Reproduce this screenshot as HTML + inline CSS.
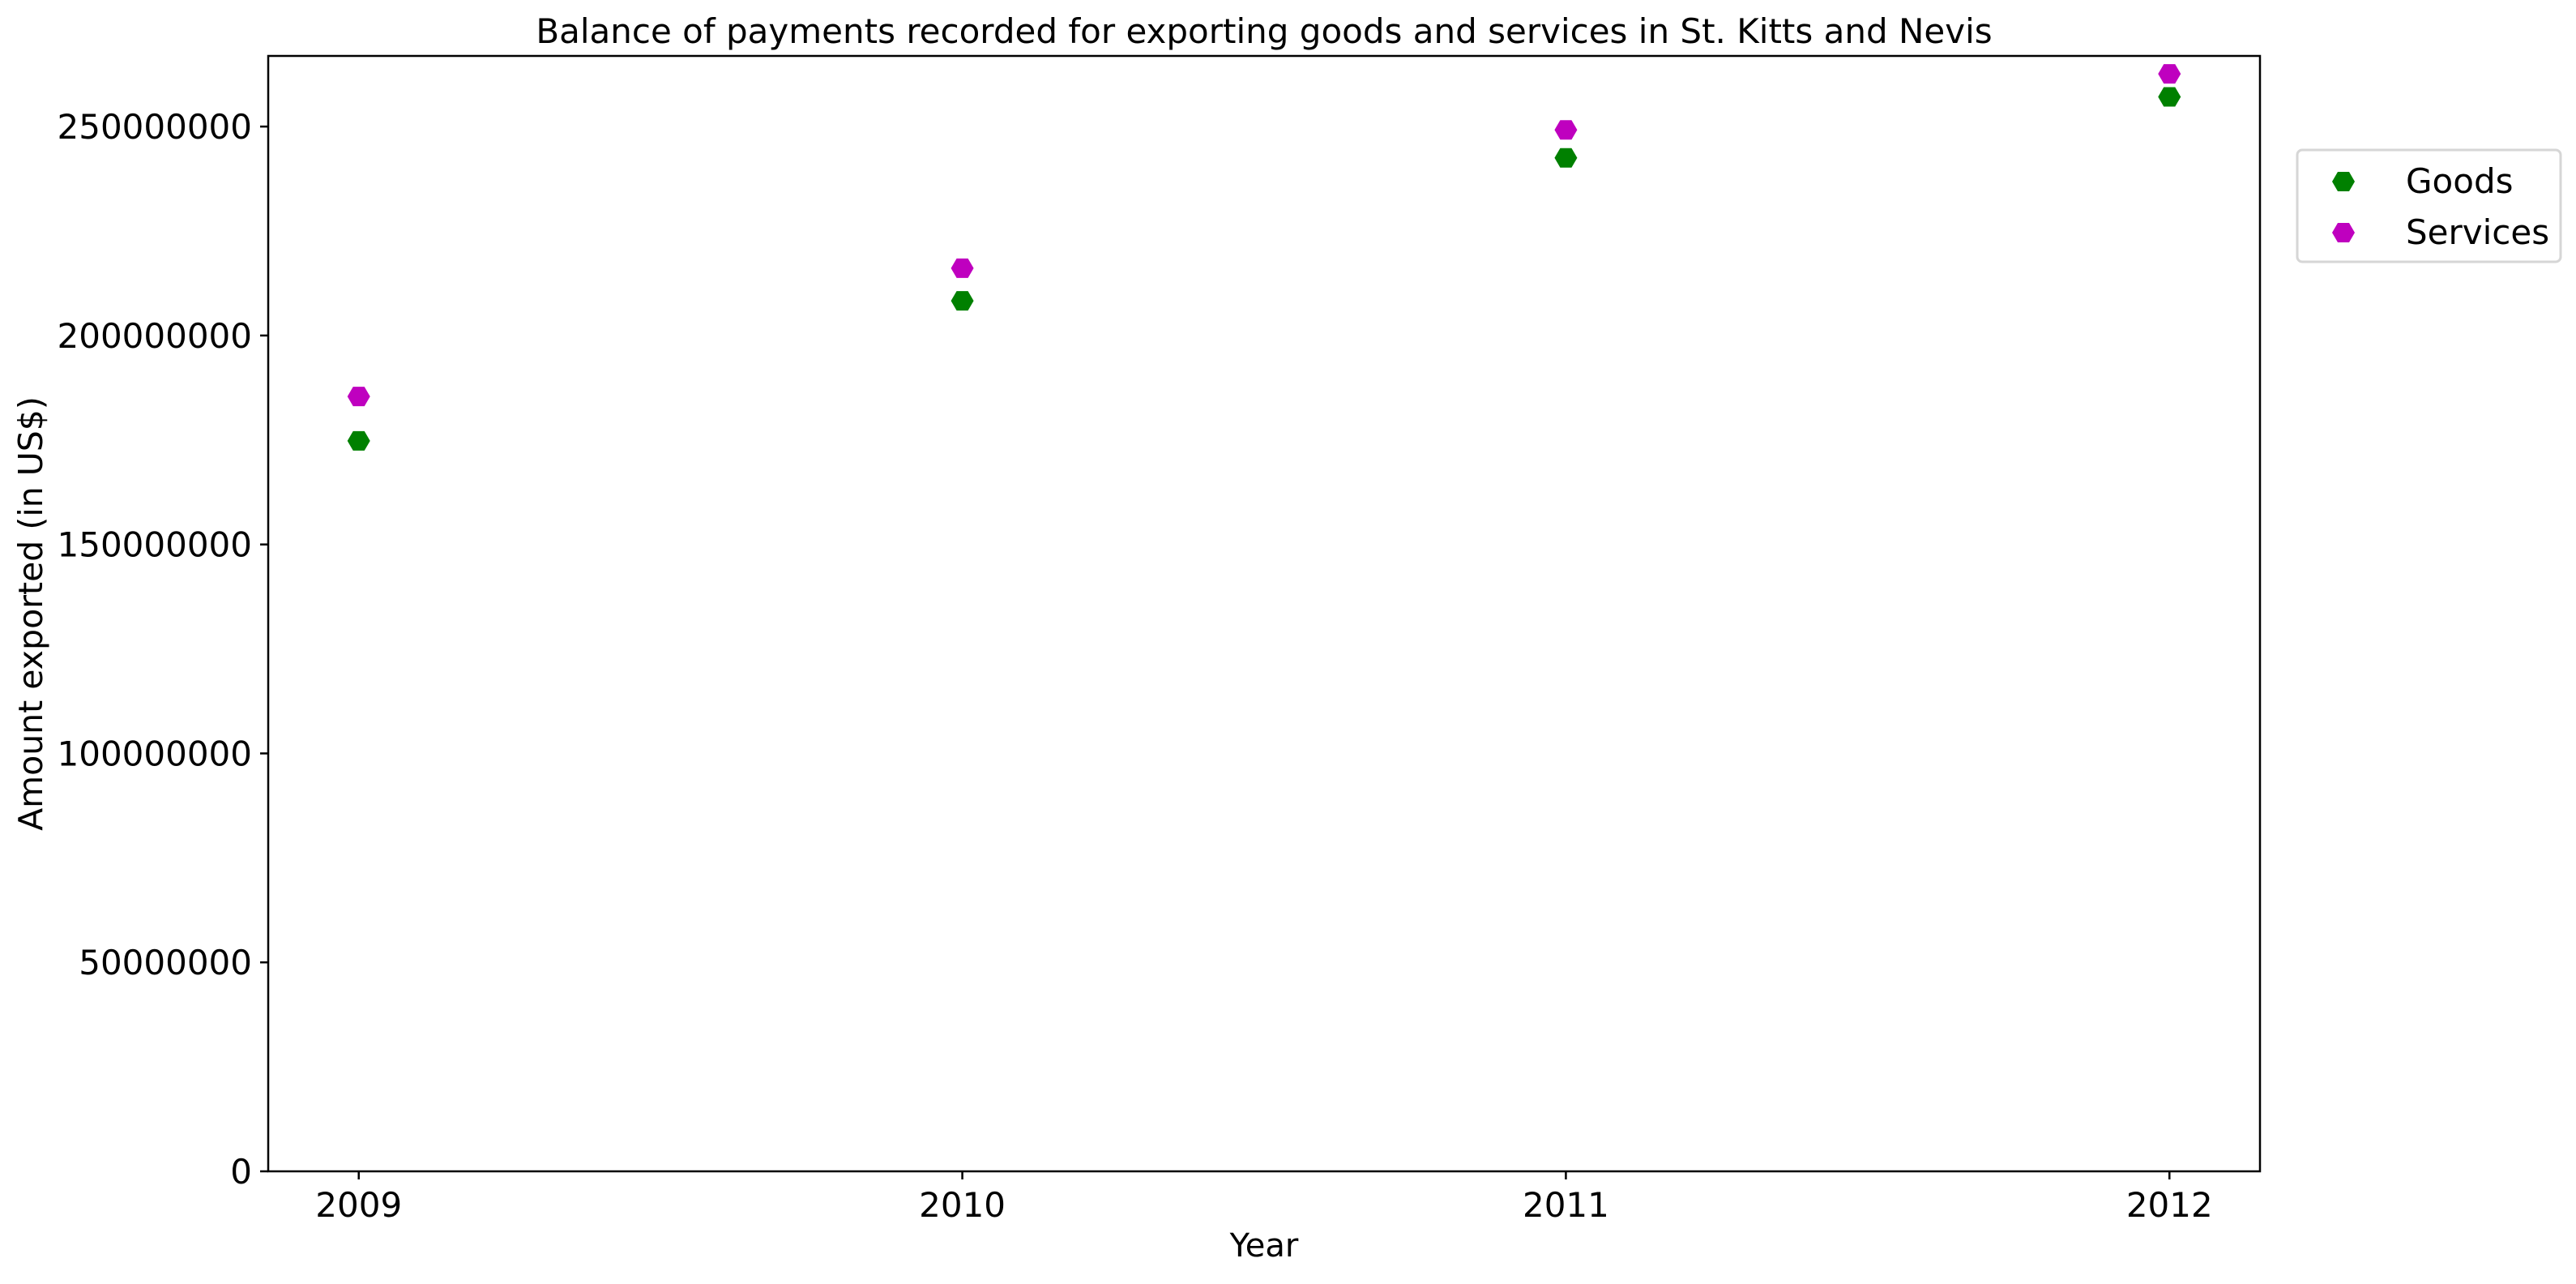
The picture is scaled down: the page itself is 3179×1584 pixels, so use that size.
<!DOCTYPE html>
<html><head><meta charset="utf-8"><style>
body{margin:0;background:#fff}
text{font-family:"DejaVu Sans","Liberation Sans",sans-serif;fill:#000}
</style></head><body>
<svg id="chart" width="3179" height="1579" viewBox="0 0 3179 1579" xmlns="http://www.w3.org/2000/svg">
<rect width="3179" height="1579" fill="#fff"/>
<text x="1560" y="53" font-size="42" text-anchor="middle">Balance of payments recorded for exporting goods and services in St. Kitts and Nevis</text>
<g id="axes"></g>
<g id="marks"></g>
<text x="1560" y="1550" font-size="40" text-anchor="middle">Year</text>
<text x="0" y="0" font-size="41" text-anchor="middle" transform="translate(52,757) rotate(-90)">Amount exported (in US$)</text>
<g>
<rect x="2835" y="185" width="325" height="138" rx="6" fill="#fff" stroke="#d6d6d6" stroke-width="3"/>
<polygon points="2878,224 2885,212 2899,212 2906,224 2899,236 2885,236" fill="#008000"/>
<text x="2969" y="238" font-size="42">Goods</text>
<polygon points="2878,287 2885,275 2899,275 2906,287 2899,299 2885,299" fill="#bf00bf"/>
<text x="2969" y="301" font-size="42">Services</text>
</g>
</svg>
<script>
const years = [2009, 2010, 2011, 2012];
const goods = [174800000, 208300000, 242500000, 257100000];
const services = [185400000, 216100000, 249200000, 262600000];
const yTicks = [0, 50000000, 100000000, 150000000, 200000000, 250000000];

const L=331,R=2789,T=69,B=1445;
const xMin=2008.85,xMax=2012.15,yMin=0,yMax=266900000;
const xs=v=>L+(v-xMin)/(xMax-xMin)*(R-L);
const ys=v=>B-(v-yMin)/(yMax-yMin)*(B-T);
const NS='http://www.w3.org/2000/svg';
const axes=document.getElementById('axes'),marks=document.getElementById('marks');
function mk(tag,attrs,parent){const e=document.createElementNS(NS,tag);for(const k in attrs)e.setAttribute(k,attrs[k]);parent.appendChild(e);return e;}

const frame=mk('rect',{x:L,y:T,width:R-L,height:B-T,fill:'none',stroke:'#000','stroke-width':2.5},axes);



yTicks.forEach(v=>{
  const y=ys(v);
  const t=mk('line',{x1:L-10,x2:L,y1:y,y2:y,stroke:'#000','stroke-width':2.5},axes);
  
  
  const lb=mk('text',{x:L-20,y:y+15,'font-size':42,'text-anchor':'end'},axes);
  lb.textContent=String(v);
  
  
});
years.forEach(v=>{
  const x=xs(v);
  const t=mk('line',{x1:x,x2:x,y1:B,y2:B+10,stroke:'#000','stroke-width':2.5},axes);
  
  
  const lb=mk('text',{x:x,y:B+56,'font-size':42,'text-anchor':'middle'},axes);
  lb.textContent=String(v);
  
  
});
function hex(cx,cy){const rx=14,ry=12;return [[cx-rx,cy],[cx-rx/2,cy-ry],[cx+rx/2,cy-ry],[cx+rx,cy],[cx+rx/2,cy+ry],[cx-rx/2,cy+ry]].map(p=>p.join(',')).join(' ');}
years.forEach((yr,i)=>{
  const g=mk('polygon',{points:hex(xs(yr),ys(goods[i])),fill:'#008000'},marks);
  
  
  const s=mk('polygon',{points:hex(xs(yr),ys(services[i])),fill:'#bf00bf'},marks);
  
  
});
</script>
</body></html>
